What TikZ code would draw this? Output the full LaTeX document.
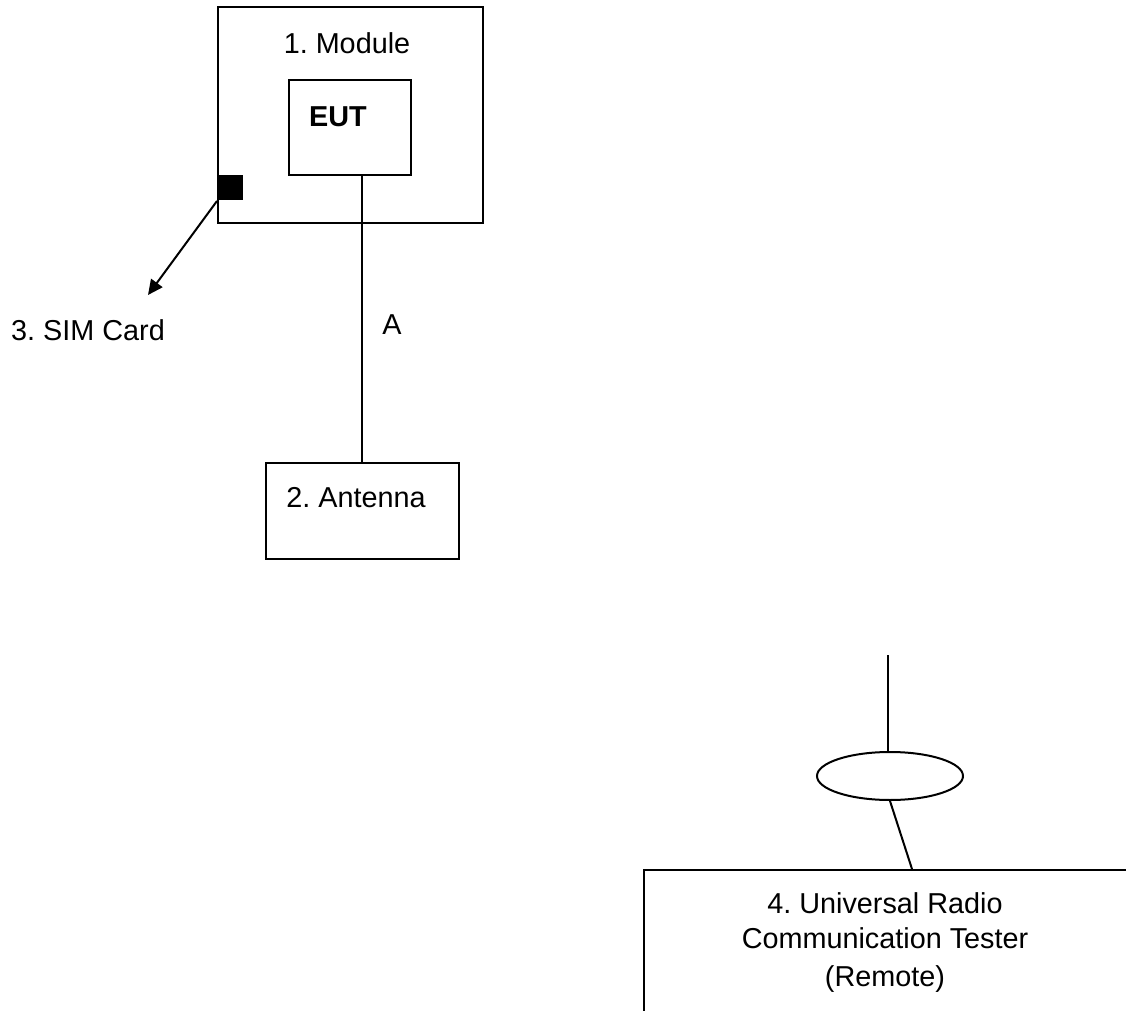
\documentclass[tikz,border=0pt]{standalone}
\usepackage{fontspec}
\setmainfont{Liberation Sans}
\usepackage{tikz}
\usetikzlibrary{arrows.meta, positioning, shapes.geometric, calc}
\frenchspacing

\begin{document}
\begin{tikzpicture}[x=0.5pt, y=-0.5pt, line width=1pt,
    every node/.style={font=\fontsize{14.4}{17.5}\selectfont},
    box/.style={draw, rectangle, inner sep=0pt}]
  \useasboundingbox (0,0) rectangle (1126,1011);
  \clip (0,0) rectangle (1126,1011);

  % Module with the EUT inside
  \node[box, minimum width=132.5pt, minimum height=108pt] (module) at (350.5,115) {};
  \node (modlabel) at (347,43) {1. Module};
  \node[box, minimum width=61pt, minimum height=47.5pt] (eut) at (350,127.5) {};
  \node[font=\fontsize{14.4}{17.5}\selectfont\bfseries] (eutlabel) at (338,117) {EUT};

  % SIM card slot and its pointer
  \node[fill, rectangle, inner sep=0pt, minimum size=12.5pt] (sim) at (230.5,187.5) {};
  \node (simlabel) at (88,330) {3. SIM Card};
  \coordinate (simtip) at (148,295);
  \draw[-{Triangle[length=7.5pt, width=7pt]}] (sim.south west) -- (simtip);

  % Antenna and cable A
  \node[box, minimum width=96.5pt, minimum height=48pt] (antenna) at (362.5,511) {};
  \node (antlabel) at (356,498) {2. Antenna};
  \coordinate (cablex) at (362,0);
  \draw (eut.south -| cablex) -- (antenna.north -| cablex);
  \node (cablelabel) at (392,325) {A};

  % Remote tester with its antenna coupler
  \coordinate (mast) at (888,655);
  \node[draw, ellipse, inner sep=0pt, minimum width=73pt, minimum height=24pt] (coupler) at (890,776) {};
  \node[box, minimum width=245pt, minimum height=72pt] (tester) at (889,942) {};
  \node[align=center] (testlabel) at (885,943) {4. Universal Radio\\Communication Tester\\[1.5pt](Remote)};
  \draw (mast) -- (mast |- coupler.north);
  \coordinate (feed) at (912,0);
  \draw (coupler.south) -- (tester.north -| feed);
\end{tikzpicture}
\end{document}
